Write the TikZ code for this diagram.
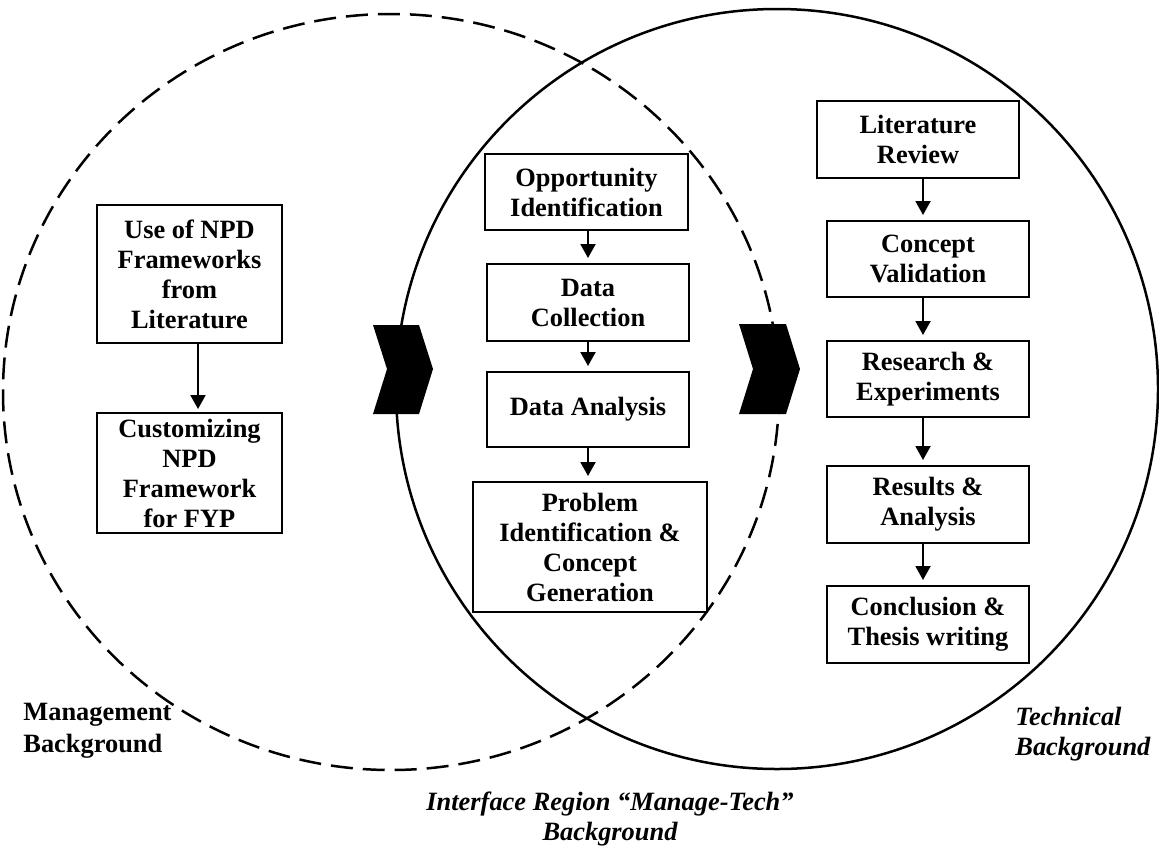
\documentclass[tikz,border=0pt]{standalone}
\usepackage{fontspec}
\setmainfont{Liberation Serif}
\usetikzlibrary{arrows.meta}
\begin{document}
\begin{tikzpicture}[x=0.5pt,y=-0.5pt,
  box/.style={draw,line width=1pt,fill=white,inner sep=0pt,align=center,
    font=\fontsize{13.2}{15}\selectfont\bfseries},
  flow/.style={-{Triangle[length=7pt,width=7.5pt]},line width=1pt,shorten >=2.5pt},
  ring/.style={line width=1.25pt},
  chev/.style={fill=black},
  lbl/.style={inner sep=0pt}]
\useasboundingbox (0,0) rectangle (1159,846);

% the two background regions
\draw[ring,dash pattern=on 11pt off 5pt] (391,392) ellipse [x radius=388, y radius=378];
\draw[ring] (777,389) ellipse [x radius=381, y radius=380];

% transition chevrons
\fill[chev] (373,325) -- (419,325) -- (433,369) -- (419,414) -- (373,414) -- (387,369) -- cycle;
\fill[chev] (739,324) -- (786,324) -- (800,369) -- (786,414) -- (739,414) -- (753,369) -- cycle;

% management column
\node[box,minimum width=92.5pt,minimum height=69pt] (use) at (189.5,274) {Use of NPD\\Frameworks\\from\\Literature};
\node[box,minimum width=92.5pt,minimum height=60pt] (cust) at (189.5,473) {Customizing\\NPD\\Framework\\for FYP};

% interface column
\node[box,minimum width=101.5pt,minimum height=38pt] (opp) at (586.5,192) {Opportunity\\Identification};
\node[box,minimum width=101pt,minimum height=38.5pt] (dc) at (588,302.5) {Data\\Collection};
\node[box,minimum width=101pt,minimum height=37.5pt] (da) at (588,409.5) {Data Analysis};
\node[box,minimum width=117pt,minimum height=65pt] (prob) at (590,547) {Problem\\Identification \&\\Concept\\Generation};

% technical column
\node[box,minimum width=101pt,minimum height=38.5pt] (lit) at (918,139.5) {Literature\\Review};
\node[box,minimum width=101pt,minimum height=38pt] (cv) at (928,259) {Concept\\Validation};
\node[box,minimum width=101pt,minimum height=38pt] (re) at (928,379) {Research \&\\Experiments};
\node[box,minimum width=101pt,minimum height=38.5pt] (ra) at (928,504.5) {Results \&\\Analysis};
\node[box,minimum width=101pt,minimum height=38.5pt] (ct) at (928,624.5) {Conclusion \&\\Thesis writing};

% arrow columns
\coordinate (colL) at (198,0);
\coordinate (colM) at (588,0);
\coordinate (colR) at (923,0);

\draw[flow,shorten >=1.5pt] (use.south -| colL) -- (cust.north -| colL);
\draw[flow] (opp.south -| colM) -- (dc.north -| colM);
\draw[flow] (dc.south -| colM) -- (da.north -| colM);
\draw[flow] (da.south -| colM) -- (prob.north -| colM);
\draw[flow] (lit.south -| colR) -- (cv.north -| colR);
\draw[flow] (cv.south -| colR) -- (re.north -| colR);
\draw[flow] (re.south -| colR) -- (ra.north -| colR);
\draw[flow] (ra.south -| colR) -- (ct.north -| colR);

% region labels
\node[lbl,anchor=west,align=left,font=\fontsize{13.2}{16}\selectfont\bfseries] (mgmt) at (23,731) {Management\\Background};
\node[lbl,anchor=west,align=left,font=\fontsize{13.2}{15}\selectfont\bfseries\itshape] (tech) at (1015,734) {Technical\\Background};
\node[lbl,anchor=center,align=center,font=\fontsize{13.2}{15}\selectfont\bfseries\itshape] (iface) at (610,819) {Interface Region “Manage-Tech”\\Background};
\end{tikzpicture}
\end{document}
